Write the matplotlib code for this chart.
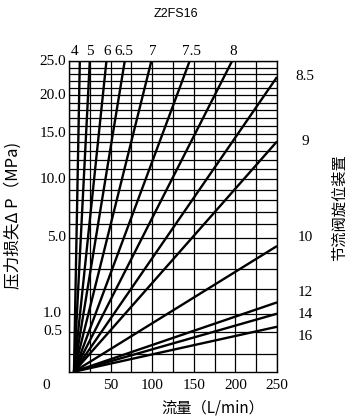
import numpy as np
import matplotlib
matplotlib.use('Agg')
import matplotlib.pyplot as plt

plt.rcParams['font.family'] = ['Noto Sans CJK SC', 'DejaVu Sans']

# throttle settings whose lines leave through the top edge (dp = 25 MPa)
top_settings = ['4', '5', '6', '6.5', '7', '7.5', '8']
top_flow = [13, 25, 45, 67, 99, 145, 196]          # L/min at 25 MPa
top_label_flow = [7, 25, 46, 66, 101, 147, 197]

# throttle settings whose lines leave through the right edge (Q = 250)
right_settings = ['8.5', '9', '10', '12', '14', '16']
right_dp = [22.6, 14.1, 4.43, 1.42, 1.01, 0.62]     # MPa at 250 L/min
right_label_dp = [22.7, 14.1, 5.0, 1.81, 0.97, 0.38]

q_start = 6          # all lines start here at dp = 0
q_max = 250
dp_max = 25

x_ticks = [50, 100, 150, 200, 250]
y_ticks_right = [25.0, 20.0, 15.0, 10.0, 5.0]
y_ticks_left = [1.0, 0.5]
y_grid = [0.1, 0.5] + list(range(1, 26))
x_grid = list(range(0, 251, 25))

n = 0.523
fwd = lambda p: np.sign(p) * np.abs(p) ** n
inv = lambda u: np.sign(u) * np.abs(u) ** (1 / n)

fig = plt.figure(figsize=(3.52, 4.19), dpi=100)
ax = fig.add_axes([0.196, 0.1129, 0.591, 0.7415])
ax.set_yscale('function', functions=(fwd, inv))
ax.set_xlim(0, q_max)
ax.set_ylim(0, dp_max)

for g in x_grid:
    ax.axvline(g, color='black', lw=0.9, zorder=1)
for g in y_grid:
    ax.axhline(g, color='black', lw=0.9, zorder=1)

for q in top_flow:
    ax.plot([q_start, q], [0, dp_max], color='black', lw=1.7, zorder=2,
            solid_capstyle='butt')
for p in right_dp:
    ax.plot([q_start, q_max], [0, p], color='black', lw=1.7, zorder=2,
            solid_capstyle='butt')

for s in ax.spines.values():
    s.set_linewidth(1.0)
ax.set_xticks([])
ax.set_yticks([])

num_font = dict(family='Liberation Serif', fontsize=11)
ytr = ax.get_yaxis_transform()
for v in y_ticks_right:
    ax.text(-0.012, v, f'{v:.1f}', transform=ytr,
            ha='right', va='center', **num_font)
for v in y_ticks_left:
    ax.text(-0.125, v, f'{v:.1f}', transform=ytr,
            ha='left', va='center', **num_font)
ax.text(-0.11, -0.045, '0', transform=ax.transAxes, ha='center',
        va='center', **num_font)

xtr = ax.get_xaxis_transform()
for v in x_ticks:
    ax.text(v, -0.046, str(v), transform=xtr, ha='center', va='center',
            **num_font)

for lab, q in zip(top_settings, top_label_flow):
    ax.text(q, 1.03, lab, transform=xtr, ha='center',
            va='center', **num_font)
for lab, p in zip(right_settings, right_label_dp):
    ax.text(1.135, p, lab, transform=ytr, ha='center',
            va='center', **num_font)

fig.text(0.5, 0.966, 'Z2FS16', ha='center', va='center',
         family='Liberation Sans', fontsize=9)
fig.text(0.036, 0.487, '压力损失Δ P（MPa)', rotation=90, ha='center',
         va='center', fontsize=12)
fig.text(0.965, 0.505, '节流阀旋位装置', rotation=90, ha='center',
         va='center', fontsize=11)
fig.text(0.605, 0.027, '流量（L/min）', ha='center', va='center',
         fontsize=11)

fig.savefig('out.png', dpi=100, facecolor='white')
